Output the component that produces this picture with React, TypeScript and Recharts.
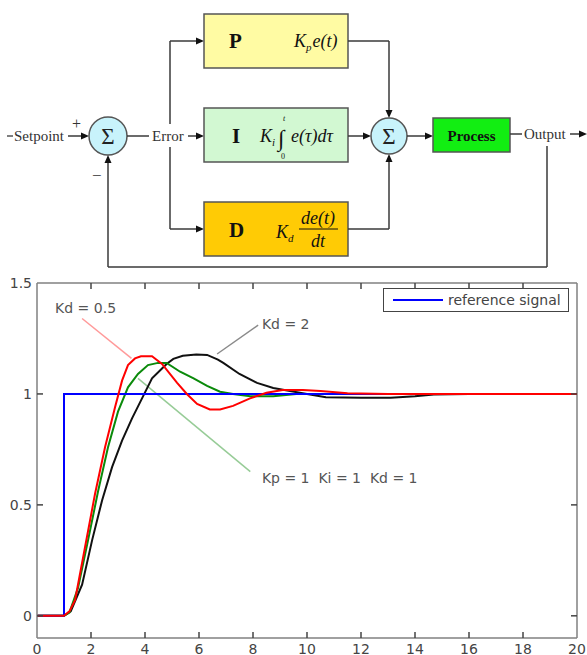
import React from 'react';
import { LineChart, Line, XAxis, YAxis, ReferenceLine, ReferenceDot, Legend } from 'recharts';

// time axis ticks / value axis ticks
const xTicks = [0, 2, 4, 6, 8, 10, 12, 14, 16, 18, 20];
const yTicks = [0, 0.5, 1, 1.5];
const xDomain = [0, 20];
const yDomain = [-0.1, 1.5];

// reference step
const refT = [0, 1, 1, 14];
const refY = [0, 0, 1, 1];

// Kd = 2 (black)
const kd2T = [0, 1, 1.25, 1.67, 2.04, 2.41, 2.78, 3.15, 3.52, 3.89, 4.26, 4.63, 4.8, 5.05, 5.4, 5.9, 6.3, 6.7, 6.9, 7.5, 8.15, 8.75, 9.37, 10, 10.7, 12, 13.1, 14, 14.7, 16];
const kd2Y = [0, 0, 0.02, 0.14, 0.34, 0.52, 0.67, 0.79, 0.89, 0.98, 1.07, 1.115, 1.135, 1.158, 1.172, 1.178, 1.176, 1.155, 1.14, 1.09, 1.05, 1.027, 1.013, 1.0, 0.985, 0.983, 0.983, 0.99, 0.998, 1.0];

// Kd = 1 (green)
const kd1T = [0, 1, 1.2, 1.52, 1.89, 2.26, 2.63, 3.0, 3.37, 3.74, 4.11, 4.48, 4.8, 5.3, 5.8, 6.3, 6.78, 7.26, 7.9, 8.75, 9.6, 10.5, 12, 14];
const kd1Y = [0, 0, 0.015, 0.126, 0.34, 0.56, 0.76, 0.92, 1.03, 1.09, 1.13, 1.14, 1.14, 1.1, 1.07, 1.036, 1.01, 1.0, 0.99, 0.99, 1.0, 1.0, 1.0, 1.0];

// Kd = 0.5 (red)
const kd05T = [0, 1, 1.2, 1.41, 1.78, 2.15, 2.52, 2.89, 3.15, 3.37, 3.63, 3.85, 4.26, 4.63, 5.19, 5.55, 5.93, 6.4, 6.78, 7.26, 7.89, 8.5, 9.1, 9.85, 10.5, 11.5, 13, 16, 20];
const kd05Y = [0, 0, 0.02, 0.07, 0.31, 0.55, 0.76, 0.94, 1.06, 1.13, 1.16, 1.17, 1.17, 1.135, 1.05, 1.0, 0.955, 0.93, 0.93, 0.946, 0.98, 1.005, 1.018, 1.018, 1.013, 1.003, 1.0, 1.0, 1.0];

// annotations (data coords)
const noteText = ['Kd = 0.5', 'Kd = 2', 'Kp = 1  Ki = 1  Kd = 1'];
const noteX = [0.67, 8.33, 8.33];
const noteY = [1.387, 1.315, 0.622];
const leaderFrom = [[1.67, 1.34], [8.19, 1.31], [7.9, 0.65]];
const leaderTo = [[3.5, 1.16], [6.67, 1.18], [3.74, 1.07]];
const leaderColor = ['#ff9a9a', '#8a8a8a', '#97cc97'];

const zip = (t: number[], y: number[]) => t.map((v, i) => ({ t: v, y: y[i] }));

// chart layout
const CHART_W = 587;
const CHART_H = 385;
const MARGIN = { top: 13, right: 10, bottom: 0, left: 0 };
const X_AXIS_H = 17;
const Y_AXIS_W = 37;
const X_TICK_MARGIN = 6;
const Y_TICK_MARGIN = 5;
const PLOT_W = CHART_W - MARGIN.left - MARGIN.right - Y_AXIS_W;
const PLOT_H = CHART_H - MARGIN.top - MARGIN.bottom - X_AXIS_H;
const TICK_LEN = 6;

const LINE = '#3a3a3a';
const SERIF = '"Liberation Serif", "Times New Roman", serif';
const SANS = '"DejaVu Sans", Verdana, sans-serif';
const axisStroke = '#808080';
const tickStroke = '#444';

const Arrow = ({ x1, y1, x2, y2 }: { x1: number; y1: number; x2: number; y2: number }) => {
  const a = Math.atan2(y2 - y1, x2 - x1);
  const len = 8;
  const w = 3.5;
  const bx = x2 - len * Math.cos(a);
  const by = y2 - len * Math.sin(a);
  const pts = `${x2},${y2} ${bx - w * Math.sin(a)},${by + w * Math.cos(a)} ${bx + w * Math.sin(a)},${by - w * Math.cos(a)}`;
  return (
    <g>
      <line x1={x1} y1={y1} x2={bx} y2={by} stroke={LINE} strokeWidth={1.5} />
      <polygon points={pts} fill="#111" />
    </g>
  );
};

const Block = ({ x, y, w, h, fill }: { x: number; y: number; w: number; h: number; fill: string }) => (
  <rect x={x} y={y} width={w} height={h} fill={fill} stroke="#555" strokeWidth={1.5} />
);

const Sum = ({ cx, cy, r }: { cx: number; cy: number; r: number }) => (
  <g>
    <circle cx={cx} cy={cy} r={r} fill="#c8f3fb" stroke="#555" strokeWidth={1.5} />
    <text x={cx} y={cy + 7.5} textAnchor="middle" fontSize={23} fontFamily={SERIF} fill="#222">Σ</text>
  </g>
);

const BlockDiagram = () => (
  <svg width={587} height={272} style={{ position: 'absolute', left: 0, top: 0 }}>
    <line x1={7} y1={136} x2={13} y2={136} stroke={LINE} strokeWidth={1.3} />
    <text x={14} y={141} fontSize={15} fontFamily={SERIF} fill="#333">Setpoint</text>
    <Arrow x1={68} y1={136} x2={89} y2={136} />
    <text x={72} y={129} fontSize={16} fontFamily={SERIF} fill="#333">+</text>
    <text x={92} y={181} fontSize={17} fontFamily={SERIF} fill="#333">−</text>
    <Sum cx={108} cy={136} r={19} />

    <line x1={127} y1={136} x2={149} y2={136} stroke={LINE} strokeWidth={1.5} />
    <text x={152} y={141} fontSize={15} fontFamily={SERIF} fill="#333">Error</text>
    <Arrow x1={188} y1={136} x2={204} y2={136} />
    <line x1={170} y1={41} x2={170} y2={124} stroke={LINE} strokeWidth={1.5} />
    <line x1={170} y1={147} x2={170} y2={229} stroke={LINE} strokeWidth={1.5} />
    <Arrow x1={170} y1={41} x2={204} y2={41} />
    <Arrow x1={170} y1={229} x2={204} y2={229} />

    <Block x={204} y={14} w={144} h={54} fill="#fffba3" />
    <Block x={204} y={108} w={144} h={54} fill="#d2f8d2" />
    <Block x={204} y={202} w={144} h={54} fill="#ffcb05" />

    <text x={229} y={48} fontSize={21} fontWeight="bold" fontFamily={SERIF} fill="#111">P</text>
    <text x={294} y={47} fontSize={18} fontStyle="italic" fontFamily={SERIF} fill="#111">
      K<tspan fontSize={11} dy={4}>p</tspan><tspan dy={-4} dx={1}>e(t)</tspan>
    </text>

    <text x={232} y={143} fontSize={21} fontWeight="bold" fontFamily={SERIF} fill="#111">I</text>
    <text x={260} y={142} fontSize={18} fontStyle="italic" fontFamily={SERIF} fill="#111">
      K<tspan fontSize={11} dy={4}>i</tspan>
    </text>
    <text x={278} y={146} fontSize={23} fontFamily={SERIF} fill="#111">∫</text>
    <text x={283} y={121} fontSize={8} fontStyle="italic" fontFamily={SERIF} fill="#111">t</text>
    <text x={281} y={159} fontSize={8} fontFamily={SERIF} fill="#111">0</text>
    <text x={291} y={142} fontSize={18} fontStyle="italic" fontFamily={SERIF} fill="#111">e(τ)dτ</text>

    <text x={229} y={237} fontSize={21} fontWeight="bold" fontFamily={SERIF} fill="#111">D</text>
    <text x={276} y={238} fontSize={18} fontStyle="italic" fontFamily={SERIF} fill="#111">
      K<tspan fontSize={11} dy={4}>d</tspan>
    </text>
    <text x={318} y={224} textAnchor="middle" fontSize={18} fontStyle="italic" fontFamily={SERIF} fill="#111">de(t)</text>
    <line x1={299} y1={229} x2={338} y2={229} stroke="#111" strokeWidth={1} />
    <text x={318} y={247} textAnchor="middle" fontSize={18} fontStyle="italic" fontFamily={SERIF} fill="#111">dt</text>

    <line x1={348} y1={41} x2={389} y2={41} stroke={LINE} strokeWidth={1.5} />
    <Arrow x1={389} y1={41} x2={389} y2={118} />
    <Arrow x1={348} y1={136} x2={371} y2={136} />
    <line x1={348} y1={229} x2={389} y2={229} stroke={LINE} strokeWidth={1.5} />
    <Arrow x1={389} y1={229} x2={389} y2={154} />
    <Sum cx={389} cy={136} r={18} />

    <Arrow x1={407} y1={136} x2={433} y2={136} />
    <Block x={433} y={118} w={77} h={34} fill="#12ee12" />
    <text x={471.5} y={141} textAnchor="middle" fontSize={15} fontWeight="bold" fontFamily={SERIF} fill="#111">Process</text>

    <line x1={510} y1={134} x2={522} y2={134} stroke={LINE} strokeWidth={1.5} />
    <text x={524} y={139} fontSize={15} fontFamily={SERIF} fill="#333">Output</text>
    <Arrow x1={570} y1={134} x2={587} y2={134} />
    <line x1={547} y1={146} x2={547} y2={267} stroke={LINE} strokeWidth={1.5} />
    <line x1={547} y1={267} x2={108} y2={267} stroke={LINE} strokeWidth={1.5} />
    <Arrow x1={108} y1={267} x2={108} y2={155} />
  </svg>
);

const LegendBox = ({ payload }: any) => {
  const items = (payload || []).filter((p: any) => p.type !== 'none' && p.value === 'reference signal');
  return (
    <div style={{ width: 184, height: 22, border: '1px solid #444', background: '#fff', display: 'flex', alignItems: 'center' }}>
      {items.map((p: any) => (
        <React.Fragment key={p.value}>
          <div style={{ width: 50, height: 2, background: p.color, marginLeft: 9, marginRight: 5, flex: 'none' }} />
          <span style={{ fontFamily: SANS, fontSize: 14, color: '#444', lineHeight: '22px', whiteSpace: 'nowrap' }}>{p.value}</span>
        </React.Fragment>
      ))}
    </div>
  );
};

// x tick: label below the box, inward marks on bottom and top edges
const XTick = ({ x, y, payload }: any) => {
  const v = payload.value;
  const base = y - X_TICK_MARGIN;
  const inner = v > xDomain[0] && v < xDomain[1];
  return (
    <g>
      {inner && <line x1={x} y1={base} x2={x} y2={base - TICK_LEN} stroke={tickStroke} strokeWidth={1.5} />}
      {inner && <line x1={x} y1={base - PLOT_H} x2={x} y2={base - PLOT_H + TICK_LEN} stroke={tickStroke} strokeWidth={1.5} />}
      <text x={x} y={y} dy="0.71em" textAnchor="middle" fontSize={14} fontFamily={SANS} fill="#444">{v}</text>
    </g>
  );
};

// y tick: label left of the box, inward marks on left and right edges
const YTick = ({ x, y, payload }: any) => {
  const v = payload.value;
  const base = x + Y_TICK_MARGIN;
  const inner = v < yDomain[1];
  return (
    <g>
      {inner && <line x1={base} y1={y} x2={base + TICK_LEN} y2={y} stroke={tickStroke} strokeWidth={1.5} />}
      {inner && <line x1={base + PLOT_W} y1={y} x2={base + PLOT_W - TICK_LEN} y2={y} stroke={tickStroke} strokeWidth={1.5} />}
      <text x={x} y={y} dy="0.355em" textAnchor="end" fontSize={14} fontFamily={SANS} fill="#444">{v}</text>
    </g>
  );
};

export default function App() {
  return (
    <div style={{ position: 'absolute', left: 0, top: 0, width: 587, height: 655, background: '#fff', overflow: 'hidden' }}>
      <BlockDiagram />
      <div style={{ position: 'absolute', left: 0, top: 270 }}>
        <LineChart width={CHART_W} height={CHART_H} margin={MARGIN}>
          <XAxis xAxisId="b" dataKey="t" type="number" domain={xDomain} ticks={xTicks} allowDataOverflow interval={0}
            height={X_AXIS_H} tickSize={0} tickLine={false} tickMargin={X_TICK_MARGIN} stroke={axisStroke} strokeWidth={1.5} tick={<XTick />} />
          <YAxis yAxisId="l" type="number" domain={yDomain} ticks={yTicks} allowDataOverflow interval={0}
            width={Y_AXIS_W} tickSize={0} tickLine={false} tickMargin={Y_TICK_MARGIN} stroke={axisStroke} strokeWidth={1.5} tick={<YTick />} />

          {/* box top and right */}
          <ReferenceLine xAxisId="b" yAxisId="l" y={yDomain[1]} stroke={axisStroke} strokeWidth={1.5} ifOverflow="visible" />
          <ReferenceLine xAxisId="b" yAxisId="l" x={xDomain[1]} stroke={axisStroke} strokeWidth={1.5} ifOverflow="visible" />

          {leaderFrom.map((f, i) => (
            <ReferenceLine key={`ld${i}`} xAxisId="b" yAxisId="l" ifOverflow="visible"
              segment={[{ x: f[0], y: f[1] }, { x: leaderTo[i][0], y: leaderTo[i][1] }]}
              stroke={leaderColor[i]} strokeWidth={1.5} />
          ))}

          <Line xAxisId="b" yAxisId="l" data={zip(kd2T, kd2Y)} dataKey="y" name="Kd = 2" legendType="none"
            type="linear" stroke="#111" strokeWidth={2} dot={false} isAnimationActive={false} />
          <Line xAxisId="b" yAxisId="l" data={zip(kd1T, kd1Y)} dataKey="y" name="Kd = 1" legendType="none"
            type="linear" stroke="#0a8a0a" strokeWidth={2} dot={false} isAnimationActive={false} />
          <Line xAxisId="b" yAxisId="l" data={zip(refT, refY)} dataKey="y" name="reference signal"
            type="linear" stroke="#0000ff" strokeWidth={2} dot={false} isAnimationActive={false} />
          <Line xAxisId="b" yAxisId="l" data={zip(kd05T, kd05Y)} dataKey="y" name="Kd = 0.5" legendType="none"
            type="linear" stroke="#ff0000" strokeWidth={2} dot={false} isAnimationActive={false} />

          {noteText.map((s, i) => (
            <ReferenceDot key={`nt${i}`} xAxisId="b" yAxisId="l" x={noteX[i]} y={noteY[i]} ifOverflow="visible"
              shape={(p: any) => (
                <text x={p.cx} y={p.cy + 5} fontSize={14} fontFamily={SANS} fill="#555" style={{ whiteSpace: 'pre' }}>{s}</text>
              )} />
          ))}

          <Legend content={<LegendBox />} wrapperStyle={{ left: 383, top: 18, width: 186 }} verticalAlign="middle" />
        </LineChart>
      </div>
    </div>
  );
}
